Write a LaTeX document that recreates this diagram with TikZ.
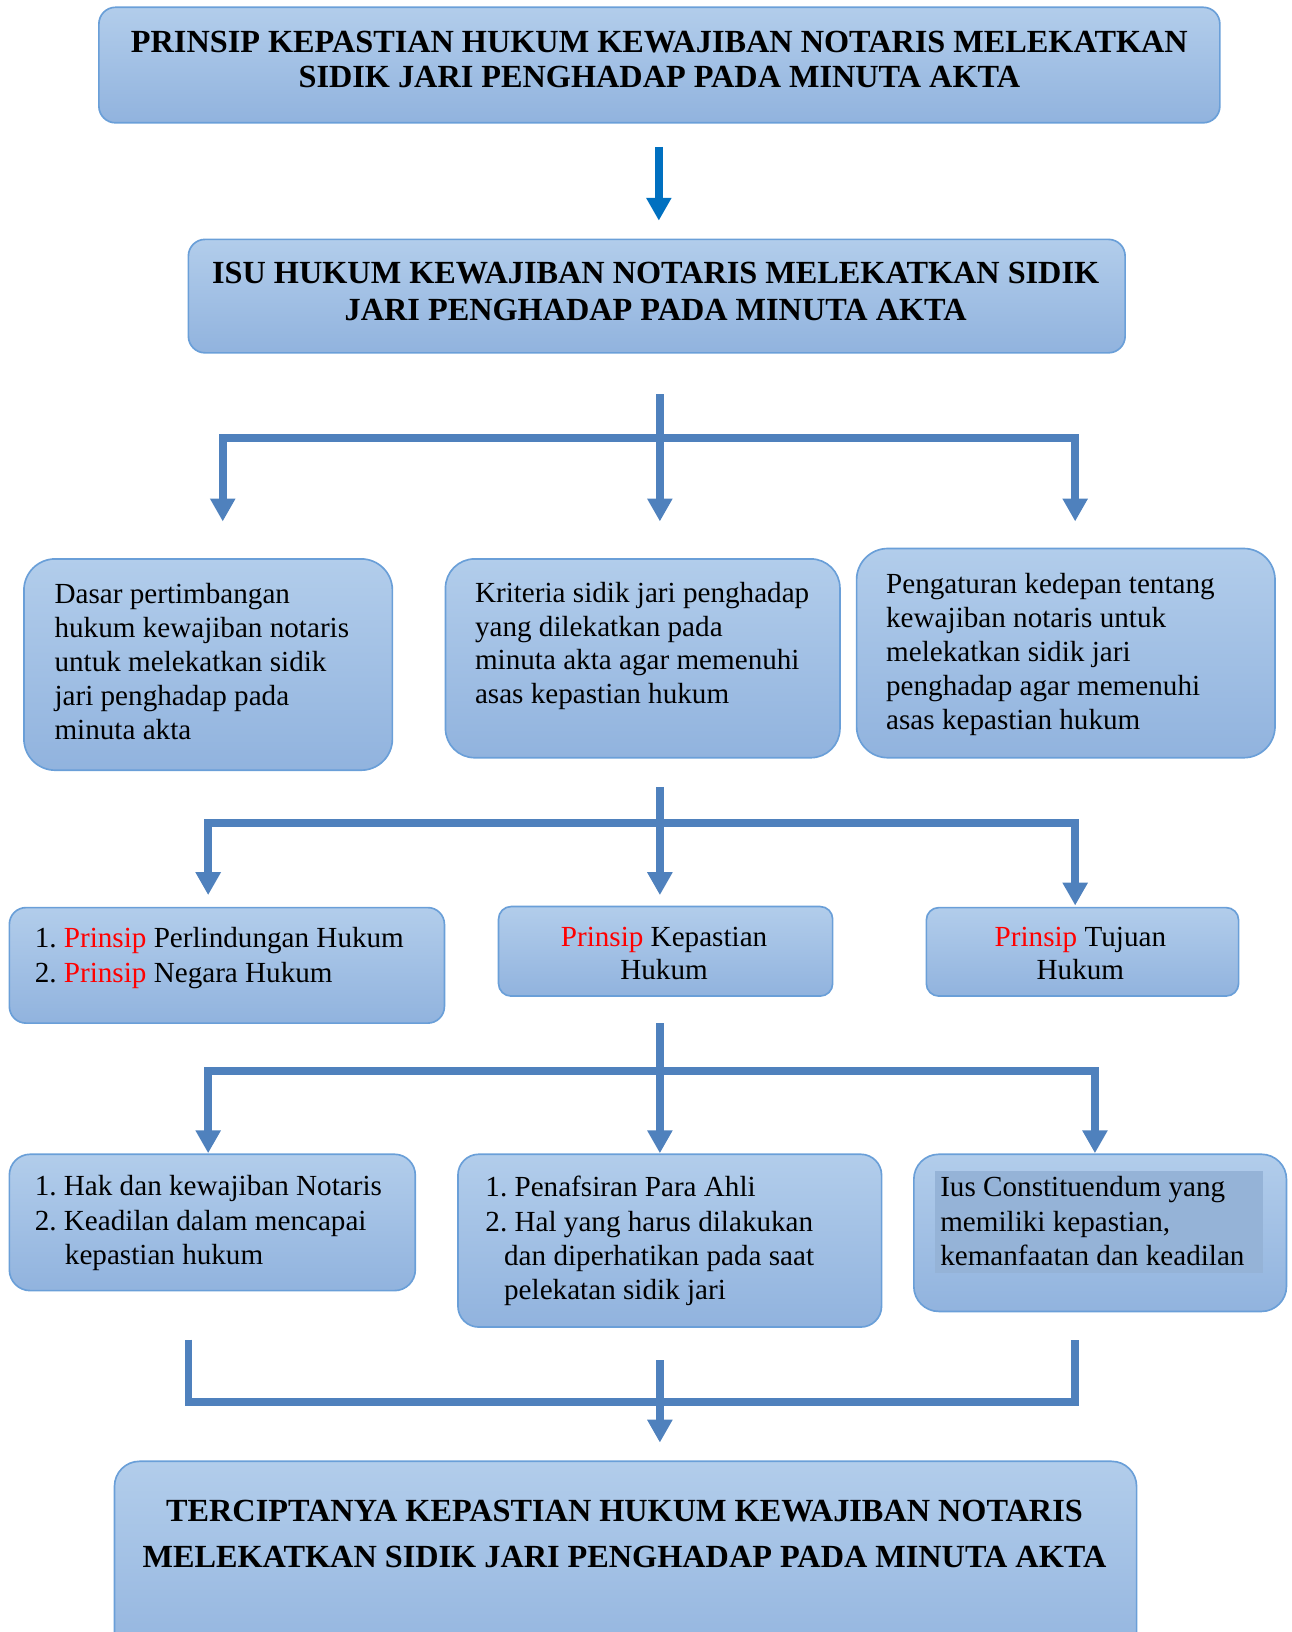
\documentclass[tikz,border=0pt]{standalone}
\usepackage{fontspec}
\setmainfont{Liberation Serif}
\usetikzlibrary{arrows.meta,fit}
\definecolor{connc}{HTML}{4F81BD}
\definecolor{darr}{HTML}{0070C0}
\definecolor{btop}{HTML}{B2CDEB}
\definecolor{bbot}{HTML}{91B3DE}
\definecolor{bline}{HTML}{6A9FD8}
\definecolor{hil}{HTML}{95B3D7}
\newcommand\bodyfont{\fontsize{14}{16.3}\selectfont}
\newcommand\headfont{\fontsize{15.5}{17.4}\selectfont\bfseries}
\newcommand\rp{\textcolor{red}{Prinsip}}
\tikzset{
  box/.style={draw=bline, line width=0.8pt, top color=btop, bottom color=bbot, inner sep=0pt},
  conn/.style={draw=connc, line width=3.7pt, line join=miter},
  tipc/.tip={Triangle[width=11.5pt,length=11pt]},
  txt/.style={inner sep=0pt, anchor=base west, font=\bodyfont},
  ctxt/.style={inner sep=0pt, anchor=base, font=\bodyfont},
  htxt/.style={inner sep=0pt, anchor=base, font=\headfont}
}
\begin{document}
\begin{tikzpicture}[x=0.5pt,y=-0.5pt]
\useasboundingbox (0,0) rectangle (1241,1568);
\clip (0,0) rectangle (1241,1568);
% boxes
\node[box, rounded corners=8pt, fit={(95,7) (1172,118)}] (title) {};
\node[box, rounded corners=8pt, fit={(181,230) (1081,339)}] (isu) {};
\node[box, rounded corners=15pt, fit={(23,537) (377,740)}] (bA) {};
\node[box, rounded corners=14pt, fit={(428,537) (807,728)}] (bB) {};
\node[box, rounded corners=15pt, fit={(823,527) (1225,728)}] (bC) {};
\node[box, rounded corners=8pt, fit={(9,872) (427,983)}] (bD) {};
\node[box, rounded corners=6pt, fit={(479,871) (800,957)}] (bE) {};
\node[box, rounded corners=6pt, fit={(890,872) (1190,957)}] (bF) {};
\node[box, rounded corners=10pt, fit={(9,1109) (399,1240)}] (bG) {};
\node[box, rounded corners=10pt, fit={(440,1109) (847,1275)}] (bH) {};
\node[box, rounded corners=12pt, fit={(878,1109) (1236,1260)}] (bI) {};
\node[fill=hil, inner sep=0pt, fit={(898,1125) (1213,1223)}] (hI) {};
\node[box, rounded corners=12pt, fit={(110,1404) (1092,1610)}] (final) {};
% texts
\node[htxt] (ttitle) at (633.5,50) {\parbox[t]{570pt}{\centering\headfont\baselineskip=17.25pt PRINSIP KEPASTIAN HUKUM KEWAJIBAN NOTARIS MELEKATKAN\\SIDIK JARI PENGHADAP PADA MINUTA AKTA}};
\node[htxt] (tisu) at (630,272) {\parbox[t]{570pt}{\centering\headfont\baselineskip=17.75pt ISU HUKUM KEWAJIBAN NOTARIS MELEKATKAN SIDIK\\JARI PENGHADAP PADA MINUTA AKTA}};
\node[txt] (tA) at (52,580) {\parbox[t]{200pt}{\raggedright\bodyfont\baselineskip=16.35pt Dasar pertimbangan\\hukum kewajiban notaris\\untuk melekatkan sidik\\jari penghadap pada\\minuta akta}};
\node[txt] (tB) at (456,579) {\parbox[t]{200pt}{\raggedright\bodyfont\baselineskip=16.1pt Kriteria sidik jari penghadap\\yang dilekatkan pada\\minuta akta agar memenuhi\\asas kepastian hukum}};
\node[txt] (tC) at (851,570) {\parbox[t]{200pt}{\raggedright\bodyfont\baselineskip=16.35pt Pengaturan kedepan tentang\\kewajiban notaris untuk\\melekatkan sidik jari\\penghadap agar memenuhi\\asas kepastian hukum}};
\node[txt] (tD) at (33,910.5) {\parbox[t]{220pt}{\raggedright\bodyfont\baselineskip=16.8pt 1.~\rp{} Perlindungan Hukum\\2.~\rp{} Negara Hukum}};
\node[ctxt] (tE) at (638,909) {\parbox[t]{150pt}{\centering\bodyfont\baselineskip=16pt \rp{} Kepastian\\Hukum}};
\node[ctxt] (tF) at (1038,909.5) {\parbox[t]{150pt}{\centering\bodyfont\baselineskip=16pt \rp{} Tujuan\\Hukum}};
\node[txt] (tG) at (33,1149) {\parbox[t]{200pt}{\raggedright\bodyfont\baselineskip=16.5pt 1.~Hak dan kewajiban Notaris\\2.~Keadilan dalam mencapai\\\hspace*{14.5pt}kepastian hukum}};
\node[txt] (tH) at (466,1150) {\parbox[t]{200pt}{\raggedright\bodyfont\baselineskip=16.5pt 1.~Penafsiran Para Ahli\\2.~Hal yang harus dilakukan\\\hspace*{9pt}dan diperhatikan pada saat\\\hspace*{9pt}pelekatan sidik jari}};
\node[txt] (tI) at (903,1150) {\parbox[t]{200pt}{\raggedright\bodyfont\baselineskip=16.4pt Ius Constituendum yang\\memiliki kepastian,\\kemanfaatan dan keadilan}};
\node[htxt] (tfinal) at (600,1462) {\parbox[t]{570pt}{\centering\headfont\baselineskip=22pt TERCIPTANYA KEPASTIAN HUKUM KEWAJIBAN NOTARIS\\MELEKATKAN SIDIK JARI PENGHADAP PADA MINUTA AKTA}};
% connector coordinates
\coordinate (a0) at (633,141);
\coordinate (a1) at (633,212);
\coordinate (g1t) at (634,379);
\coordinate (g1c) at (634,501);
\coordinate (g1l) at (214,421);
\coordinate (g1lt) at (214,501);
\coordinate (g1r) at (1033,421);
\coordinate (g1rt) at (1033,501);
\coordinate (g2t) at (634,756);
\coordinate (g2c) at (634,860);
\coordinate (g2l) at (200,791);
\coordinate (g2lt) at (200,860);
\coordinate (g2r) at (1033,791);
\coordinate (g2rt) at (1033,870);
\coordinate (g3t) at (634,983);
\coordinate (g3c) at (634,1108);
\coordinate (g3l) at (200,1029);
\coordinate (g3lt) at (200,1108);
\coordinate (g3r) at (1052,1029);
\coordinate (g3rt) at (1052,1108);
\coordinate (g4a) at (181,1287);
\coordinate (g4b) at (181,1347);
\coordinate (g4c) at (1033,1347);
\coordinate (g4d) at (1033,1287);
\coordinate (g4t) at (634,1307);
\coordinate (g4e) at (634,1386);
% connectors
\draw[draw=darr, line width=4pt, -{Triangle[width=11.5pt,length=11pt]}] (a0) -- (a1);
\draw[conn, tipc-tipc] (g1lt) -- (g1l) -- (g1r) -- (g1rt);
\draw[conn, -tipc] (g1t) -- (g1c);
\draw[conn, tipc-tipc] (g2lt) -- (g2l) -- (g2r) -- (g2rt);
\draw[conn, -tipc] (g2t) -- (g2c);
\draw[conn, tipc-tipc] (g3lt) -- (g3l) -- (g3r) -- (g3rt);
\draw[conn, -tipc] (g3t) -- (g3c);
\draw[conn] (g4a) -- (g4b) -- (g4c) -- (g4d);
\draw[conn, -tipc] (g4t) -- (g4e);
\end{tikzpicture}
\end{document}
